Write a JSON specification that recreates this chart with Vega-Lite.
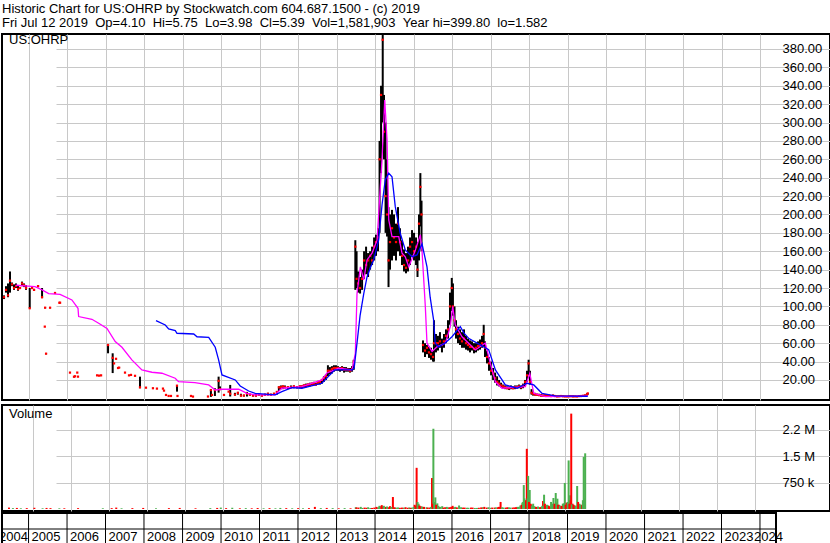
{
  "$schema": "https://vega.github.io/schema/vega-lite/v6.json",
  "padding": {"top": 3, "left": 0, "right": 0, "bottom": 0},
  "background": "white",
  "title": {
    "text": ["Historic Chart for US:OHRP by Stockwatch.com 604.687.1500 - (c) 2019", "Fri Jul 12 2019 \u00a0Op=4.10 \u00a0Hi=5.75 \u00a0Lo=3.98 \u00a0Cl=5.39 \u00a0Vol=1,581,903 \u00a0Year hi=399.80 \u00a0lo=1.582"],
    "anchor": "start", "frame": "group", "fontSize": 13, "fontWeight": "normal", "font": "Liberation Sans", "color": "black", "lineHeight": 14, "offset": 1
  },
  "config": {
    "view": {"stroke": "black", "strokeWidth": 2},
    "font": "Liberation Sans",
    "axis": {"domain": false, "ticks": false, "labelFont": "Liberation Sans", "labelFontSize": 13, "labelColor": "black", "gridColor": "#c8c8c8", "gridWidth": 1, "labelOverlap": false}
  },
  "datasets": {
    "px": [
      {"d":"2004-05-13","l":108,"h":112,"c":110},
      {"d":"2004-06-01","l":115,"h":122,"c":118},
      {"d":"2004-06-20","l":110,"h":125,"c":112},
      {"d":"2004-07-09","l":115,"h":138,"c":128},
      {"d":"2004-07-28","l":122,"h":126,"c":124},
      {"d":"2004-08-16","l":118,"h":124,"c":120},
      {"d":"2004-09-04","l":120,"h":125,"c":122},
      {"d":"2004-09-23","l":117,"h":123,"c":119},
      {"d":"2004-10-12","l":119,"h":121,"c":120},
      {"d":"2004-10-31","l":122,"h":127,"c":125},
      {"d":"2004-11-19","l":121,"h":125,"c":123},
      {"d":"2004-12-08","l":118,"h":123,"c":120},
      {"d":"2005-01-12","l":98,"h":120,"c":98},
      {"d":"2005-02-03","l":119,"h":121,"c":120},
      {"d":"2005-02-22","l":117,"h":119,"c":118},
      {"d":"2005-04-01","l":121,"h":123,"c":122},
      {"d":"2005-05-09","l":109,"h":120,"c":110},
      {"d":"2005-06-04","l":78,"h":78,"c":78},
      {"d":"2005-06-07","l":98,"h":99,"c":98.6},
      {"d":"2005-06-16","l":48,"h":49,"c":48.6},
      {"d":"2005-07-24","l":98,"h":99,"c":98.6},
      {"d":"2005-09-09","l":114,"h":115,"c":114.6},
      {"d":"2005-10-20","l":104,"h":104,"c":104},
      {"d":"2005-10-27","l":104,"h":104,"c":104},
      {"d":"2006-01-29","l":28,"h":28,"c":28},
      {"d":"2006-03-08","l":23,"h":24,"c":23.5},
      {"d":"2006-03-18","l":24,"h":24,"c":24},
      {"d":"2006-04-08","l":28,"h":28,"c":28},
      {"d":"2006-04-15","l":23.6,"h":23.6,"c":23.6},
      {"d":"2006-10-13","l":25,"h":25,"c":25},
      {"d":"2006-11-01","l":24.7,"h":24.7,"c":24.7},
      {"d":"2006-11-20","l":25,"h":25,"c":25},
      {"d":"2007-01-25","l":49,"h":58,"c":58},
      {"d":"2007-03-10","l":27.5,"h":49,"c":44},
      {"d":"2007-03-23","l":38,"h":38,"c":38},
      {"d":"2007-04-11","l":43,"h":43,"c":43},
      {"d":"2007-04-30","l":33,"h":33,"c":33},
      {"d":"2007-05-10","l":33,"h":34,"c":33.4},
      {"d":"2007-07-05","l":28,"h":28,"c":28},
      {"d":"2007-08-12","l":25,"h":25,"c":25},
      {"d":"2007-08-31","l":25.5,"h":25.5,"c":25.5},
      {"d":"2007-10-08","l":24.5,"h":24.5,"c":24.5},
      {"d":"2007-11-24","l":11,"h":23.6,"c":12},
      {"d":"2008-01-20","l":11.6,"h":11.6,"c":11.6},
      {"d":"2008-03-26","l":11,"h":11,"c":11},
      {"d":"2008-05-03","l":10.6,"h":10.6,"c":10.6},
      {"d":"2008-06-29","l":10.6,"h":10.6,"c":10.6},
      {"d":"2008-07-09","l":8.4,"h":8.4,"c":8.4},
      {"d":"2008-07-28","l":3.7,"h":3.7,"c":3.7},
      {"d":"2008-08-22","l":2.6,"h":2.6,"c":2.6},
      {"d":"2008-09-13","l":2.6,"h":2.6,"c":2.6},
      {"d":"2008-11-09","l":7.3,"h":13.8,"c":13.8},
      {"d":"2008-11-14","l":2.6,"h":2.6,"c":2.6},
      {"d":"2009-03-22","l":2.6,"h":2.6,"c":2.6},
      {"d":"2009-04-10","l":1.9,"h":1.9,"c":1.9},
      {"d":"2009-08-30","l":2,"h":2,"c":2},
      {"d":"2009-09-27","l":1.6,"h":9,"c":9},
      {"d":"2009-10-07","l":3.7,"h":3.7,"c":3.7},
      {"d":"2009-11-04","l":2.6,"h":11,"c":9},
      {"d":"2009-12-09","l":6.2,"h":23.6,"c":19},
      {"d":"2009-12-22","l":10,"h":13,"c":10},
      {"d":"2010-01-29","l":3.7,"h":3.7,"c":3.7},
      {"d":"2010-03-14","l":7.3,"h":7.3,"c":7.3},
      {"d":"2010-03-29","l":2,"h":14.6,"c":5},
      {"d":"2010-05-13","l":3,"h":6,"c":4},
      {"d":"2010-06-10","l":4,"h":7,"c":6},
      {"d":"2010-07-09","l":2,"h":5,"c":3},
      {"d":"2010-08-06","l":2,"h":4,"c":3},
      {"d":"2010-09-04","l":2,"h":7,"c":5},
      {"d":"2010-10-02","l":3,"h":5,"c":4},
      {"d":"2010-10-31","l":2,"h":4,"c":3},
      {"d":"2010-11-28","l":2,"h":5,"c":3},
      {"d":"2010-12-26","l":3,"h":5,"c":4},
      {"d":"2011-01-24","l":2,"h":4,"c":3},
      {"d":"2011-02-21","l":3,"h":5,"c":4},
      {"d":"2011-03-22","l":3,"h":6,"c":5},
      {"d":"2011-04-19","l":3,"h":5,"c":4},
      {"d":"2011-05-18","l":4,"h":6,"c":5},
      {"d":"2011-06-15","l":4,"h":8,"c":7},
      {"d":"2011-07-04","l":8,"h":13,"c":12},
      {"d":"2011-07-23","l":10,"h":14,"c":12},
      {"d":"2011-08-11","l":10,"h":14,"c":13},
      {"d":"2011-08-30","l":11,"h":14,"c":12},
      {"d":"2011-09-27","l":10,"h":13,"c":12},
      {"d":"2011-10-26","l":11,"h":14,"c":12},
      {"d":"2011-11-23","l":11,"h":14,"c":13},
      {"d":"2011-12-22","l":11,"h":13,"c":12},
      {"d":"2012-01-19","l":11,"h":14,"c":13},
      {"d":"2012-02-07","l":11,"h":14,"c":13},
      {"d":"2012-02-26","l":12,"h":15,"c":14},
      {"d":"2012-03-16","l":12,"h":16,"c":14},
      {"d":"2012-04-04","l":13,"h":16,"c":15},
      {"d":"2012-04-23","l":13,"h":17,"c":15},
      {"d":"2012-05-12","l":14,"h":17,"c":16},
      {"d":"2012-05-31","l":14,"h":18,"c":16},
      {"d":"2012-06-19","l":14,"h":17,"c":15},
      {"d":"2012-07-08","l":15,"h":19,"c":17},
      {"d":"2012-07-27","l":15,"h":19,"c":18},
      {"d":"2012-08-15","l":16,"h":21,"c":20},
      {"d":"2012-09-03","l":18,"h":24,"c":22},
      {"d":"2012-09-22","l":20,"h":26,"c":24},
      {"d":"2012-10-11","l":24,"h":36,"c":30},
      {"d":"2012-10-30","l":26,"h":34,"c":30},
      {"d":"2012-11-18","l":27,"h":35,"c":32},
      {"d":"2012-12-07","l":29,"h":36,"c":33},
      {"d":"2012-12-26","l":30,"h":36,"c":33},
      {"d":"2013-01-15","l":30,"h":35,"c":33},
      {"d":"2013-02-03","l":29,"h":34,"c":32},
      {"d":"2013-02-22","l":30,"h":35,"c":33},
      {"d":"2013-03-13","l":28,"h":34,"c":31},
      {"d":"2013-04-01","l":29,"h":34,"c":31},
      {"d":"2013-04-20","l":29,"h":33,"c":31},
      {"d":"2013-05-09","l":28,"h":33,"c":30},
      {"d":"2013-05-28","l":29,"h":35,"c":32},
      {"d":"2013-06-13","l":31,"h":42,"c":40},
      {"d":"2013-06-28","l":118,"h":172,"c":165},
      {"d":"2013-07-10","l":120,"h":160,"c":130},
      {"d":"2013-07-24","l":115,"h":138,"c":125},
      {"d":"2013-08-12","l":114,"h":132,"c":120},
      {"d":"2013-08-31","l":118,"h":140,"c":130},
      {"d":"2013-09-19","l":130,"h":160,"c":150},
      {"d":"2013-10-08","l":135,"h":165,"c":145},
      {"d":"2013-10-27","l":132,"h":158,"c":150},
      {"d":"2013-11-15","l":140,"h":160,"c":155},
      {"d":"2013-12-04","l":145,"h":165,"c":150},
      {"d":"2013-12-23","l":150,"h":175,"c":165},
      {"d":"2014-01-10","l":155,"h":178,"c":170},
      {"d":"2014-01-29","l":160,"h":185,"c":175},
      {"d":"2014-02-13","l":180,"h":280,"c":260},
      {"d":"2014-02-27","l":245,"h":340,"c":330},
      {"d":"2014-03-15","l":300,"h":397,"c":390},
      {"d":"2014-03-27","l":260,"h":330,"c":290},
      {"d":"2014-04-11","l":180,"h":300,"c":220},
      {"d":"2014-04-25","l":176,"h":260,"c":200},
      {"d":"2014-05-09","l":121,"h":208,"c":150},
      {"d":"2014-05-23","l":140,"h":200,"c":170},
      {"d":"2014-06-11","l":150,"h":205,"c":185},
      {"d":"2014-06-30","l":155,"h":200,"c":175},
      {"d":"2014-07-19","l":150,"h":190,"c":170},
      {"d":"2014-08-07","l":160,"h":208,"c":190},
      {"d":"2014-08-26","l":155,"h":185,"c":170},
      {"d":"2014-09-14","l":145,"h":172,"c":155},
      {"d":"2014-10-03","l":138,"h":162,"c":145},
      {"d":"2014-10-22","l":136,"h":158,"c":142},
      {"d":"2014-11-10","l":138,"h":165,"c":150},
      {"d":"2014-11-29","l":145,"h":175,"c":165},
      {"d":"2014-12-18","l":155,"h":183,"c":170},
      {"d":"2015-01-06","l":150,"h":180,"c":160},
      {"d":"2015-01-25","l":145,"h":175,"c":165},
      {"d":"2015-02-08","l":132,"h":170,"c":140},
      {"d":"2015-02-22","l":150,"h":200,"c":190},
      {"d":"2015-03-07","l":187,"h":245,"c":230},
      {"d":"2015-03-18","l":160,"h":215,"c":200},
      {"d":"2015-04-01","l":50,"h":63,"c":58},
      {"d":"2015-04-20","l":45,"h":60,"c":52},
      {"d":"2015-05-09","l":48,"h":58,"c":55},
      {"d":"2015-05-28","l":44,"h":56,"c":50},
      {"d":"2015-06-16","l":42,"h":55,"c":48},
      {"d":"2015-07-05","l":40,"h":52,"c":45},
      {"d":"2015-07-14","l":40,"h":85,"c":60},
      {"d":"2015-08-02","l":50,"h":70,"c":60},
      {"d":"2015-08-21","l":52,"h":68,"c":60},
      {"d":"2015-09-09","l":55,"h":72,"c":62},
      {"d":"2015-09-28","l":50,"h":65,"c":58},
      {"d":"2015-10-17","l":55,"h":70,"c":62},
      {"d":"2015-11-05","l":60,"h":75,"c":68},
      {"d":"2015-11-24","l":65,"h":85,"c":75},
      {"d":"2015-12-13","l":80,"h":115,"c":100},
      {"d":"2015-12-30","l":95,"h":131,"c":120},
      {"d":"2016-01-10","l":90,"h":125,"c":100},
      {"d":"2016-01-25","l":78,"h":100,"c":85},
      {"d":"2016-02-08","l":65,"h":85,"c":75},
      {"d":"2016-02-27","l":60,"h":78,"c":70},
      {"d":"2016-03-17","l":58,"h":75,"c":65},
      {"d":"2016-04-05","l":55,"h":72,"c":62},
      {"d":"2016-04-24","l":55,"h":75,"c":65},
      {"d":"2016-05-13","l":53,"h":68,"c":60},
      {"d":"2016-06-01","l":52,"h":65,"c":58},
      {"d":"2016-06-20","l":50,"h":63,"c":56},
      {"d":"2016-07-09","l":52,"h":62,"c":56},
      {"d":"2016-07-28","l":49,"h":60,"c":54},
      {"d":"2016-08-16","l":50,"h":60,"c":55},
      {"d":"2016-09-04","l":52,"h":62,"c":57},
      {"d":"2016-09-23","l":53,"h":64,"c":58},
      {"d":"2016-10-12","l":55,"h":68,"c":60},
      {"d":"2016-10-28","l":56,"h":80,"c":70},
      {"d":"2016-11-09","l":45,"h":62,"c":55},
      {"d":"2016-11-28","l":38,"h":52,"c":45},
      {"d":"2016-12-17","l":30,"h":45,"c":38},
      {"d":"2017-01-06","l":25,"h":40,"c":30},
      {"d":"2017-01-25","l":20,"h":33,"c":27},
      {"d":"2017-02-13","l":17,"h":28,"c":22},
      {"d":"2017-03-04","l":14,"h":24,"c":18},
      {"d":"2017-03-23","l":13,"h":20,"c":16},
      {"d":"2017-04-11","l":12,"h":17,"c":14},
      {"d":"2017-04-30","l":11,"h":15,"c":13},
      {"d":"2017-05-19","l":10,"h":14,"c":12},
      {"d":"2017-06-07","l":10,"h":13,"c":11},
      {"d":"2017-06-26","l":9,"h":13,"c":11},
      {"d":"2017-07-14","l":10,"h":14,"c":12},
      {"d":"2017-08-02","l":10,"h":13,"c":11},
      {"d":"2017-08-21","l":10,"h":14,"c":12},
      {"d":"2017-09-09","l":11,"h":14,"c":12},
      {"d":"2017-09-28","l":11,"h":15,"c":13},
      {"d":"2017-10-17","l":10,"h":14,"c":12},
      {"d":"2017-11-05","l":11,"h":16,"c":14},
      {"d":"2017-11-24","l":13,"h":20,"c":18},
      {"d":"2017-12-13","l":18,"h":30,"c":25},
      {"d":"2017-12-28","l":25,"h":42,"c":38},
      {"d":"2018-01-10","l":15,"h":30,"c":18},
      {"d":"2018-01-25","l":4,"h":10,"c":6},
      {"d":"2018-02-08","l":3,"h":7,"c":5},
      {"d":"2018-02-27","l":3,"h":6,"c":4},
      {"d":"2018-03-18","l":3,"h":5,"c":4},
      {"d":"2018-04-06","l":2.5,"h":5,"c":3.5},
      {"d":"2018-04-25","l":2,"h":4.5,"c":3},
      {"d":"2018-05-14","l":2,"h":4,"c":3},
      {"d":"2018-06-02","l":2.5,"h":4.5,"c":3.5},
      {"d":"2018-06-21","l":2.5,"h":4,"c":3},
      {"d":"2018-07-10","l":2,"h":4,"c":3},
      {"d":"2018-07-29","l":2,"h":3.5,"c":2.5},
      {"d":"2018-08-17","l":2.5,"h":4,"c":3},
      {"d":"2018-09-05","l":2,"h":3.5,"c":2.5},
      {"d":"2018-09-24","l":1.6,"h":3,"c":2},
      {"d":"2018-10-13","l":1.6,"h":3,"c":2.2},
      {"d":"2018-11-01","l":2,"h":3.5,"c":2.5},
      {"d":"2018-11-20","l":1.8,"h":3,"c":2.2},
      {"d":"2018-12-09","l":1.6,"h":2.8,"c":2},
      {"d":"2018-12-28","l":1.6,"h":2.6,"c":2},
      {"d":"2019-01-15","l":1.7,"h":3,"c":2.2},
      {"d":"2019-02-03","l":1.8,"h":3,"c":2.3},
      {"d":"2019-02-22","l":1.6,"h":3.2,"c":2},
      {"d":"2019-03-13","l":1.7,"h":2.8,"c":2.1},
      {"d":"2019-04-01","l":1.6,"h":2.5,"c":2},
      {"d":"2019-04-20","l":1.8,"h":3,"c":2.4},
      {"d":"2019-05-09","l":1.9,"h":3.2,"c":2.5},
      {"d":"2019-05-28","l":2,"h":3.5,"c":2.8},
      {"d":"2019-06-16","l":2.5,"h":4,"c":3.2},
      {"d":"2019-07-05","l":3.5,"h":5.5,"c":4.1},
      {"d":"2019-07-12","l":3.98,"h":5.75,"c":5.39}
    ],
    "ma1": [
      {"d":"2004-09-01","v":123},{"d":"2004-12-26","v":122},{"d":"2005-03-03","v":121.5},{"d":"2005-05-09","v":118},
      {"d":"2005-07-11","v":114},{"d":"2005-10-27","v":113},{"d":"2006-02-16","v":107},{"d":"2006-04-15","v":98},
      {"d":"2006-04-21","v":89},{"d":"2006-08-25","v":86},{"d":"2006-10-28","v":81.7},{"d":"2007-01-15","v":76},
      {"d":"2007-04-03","v":61.7},{"d":"2007-06-06","v":55.6},{"d":"2007-09-08","v":41.8},{"d":"2007-12-12","v":30.9},
      {"d":"2008-03-16","v":28.4},{"d":"2008-06-19","v":27.3},{"d":"2008-10-23","v":21.9},{"d":"2008-11-24","v":18.2},
      {"d":"2009-04-29","v":17},{"d":"2009-09-06","v":14.6},{"d":"2009-11-07","v":9.1},{"d":"2010-01-10","v":9.9},
      {"d":"2010-06-17","v":9.9},{"d":"2010-09-04","v":5.5},{"d":"2010-11-21","v":3.7},{"d":"2011-05-27","v":3.7},
      {"d":"2011-08-01","v":11},{"d":"2012-02-07","v":12.7},{"d":"2012-08-15","v":20},{"d":"2012-10-02","v":27.6},
      {"d":"2013-01-22","v":32.7},{"d":"2013-05-28","v":31},{"d":"2013-06-28","v":49},{"d":"2013-07-14","v":114},
      {"d":"2013-08-15","v":143},{"d":"2013-09-16","v":129},{"d":"2013-10-17","v":150.5},{"d":"2013-12-04","v":158},
      {"d":"2014-01-20","v":172},{"d":"2014-03-08","v":259},{"d":"2014-04-03","v":324.5},{"d":"2014-04-25","v":281},
      {"d":"2014-05-11","v":194},{"d":"2014-06-11","v":176},{"d":"2014-08-14","v":176},{"d":"2014-09-14","v":158},
      {"d":"2014-10-15","v":154},{"d":"2014-11-17","v":143},{"d":"2015-01-18","v":161},{"d":"2015-03-07","v":178},
      {"d":"2015-03-23","v":160},{"d":"2015-04-23","v":100},{"d":"2015-05-09","v":60},{"d":"2015-06-26","v":51},
      {"d":"2015-08-12","v":56},{"d":"2015-10-30","v":60},{"d":"2015-12-16","v":78},{"d":"2016-01-08","v":99.7},
      {"d":"2016-02-01","v":80},{"d":"2016-04-05","v":67},{"d":"2016-06-07","v":60},{"d":"2016-08-09","v":52.6},
      {"d":"2016-11-12","v":60},{"d":"2016-12-30","v":38},{"d":"2017-02-16","v":18},{"d":"2017-04-20","v":11},
      {"d":"2017-11-27","v":12.7},{"d":"2018-01-08","v":27.3},{"d":"2018-02-15","v":5.5},{"d":"2018-06-05","v":1.9},
      {"d":"2019-07-12","v":2.5}
    ],
    "ma2": [
      {"d":"2008-04-24","v":84.5},{"d":"2008-07-21","v":79.8},{"d":"2008-08-22","v":75.5},{"d":"2008-10-24","v":73.6},
      {"d":"2008-11-09","v":70.8},{"d":"2009-04-17","v":70},{"d":"2009-05-18","v":67},{"d":"2009-09-06","v":66.4},
      {"d":"2009-11-07","v":55.6},{"d":"2009-12-09","v":41.8},{"d":"2010-01-10","v":25.5},{"d":"2010-05-16","v":20},
      {"d":"2010-07-02","v":13.5},{"d":"2010-09-20","v":8},{"d":"2010-11-21","v":5.5},{"d":"2011-05-30","v":3.7},
      {"d":"2011-08-01","v":7.3},{"d":"2011-11-04","v":11.6},{"d":"2012-02-07","v":11},{"d":"2012-08-15","v":16.4},
      {"d":"2012-12-16","v":31},{"d":"2013-05-28","v":31},{"d":"2013-06-17","v":33},{"d":"2013-07-14","v":60},
      {"d":"2013-08-12","v":90},{"d":"2013-09-16","v":114},{"d":"2013-10-17","v":132},{"d":"2013-11-17","v":142},
      {"d":"2013-12-19","v":150.5},{"d":"2014-02-04","v":172},{"d":"2014-03-08","v":210},{"d":"2014-04-08","v":237.5},
      {"d":"2014-05-11","v":245},{"d":"2014-06-11","v":241},{"d":"2014-07-12","v":208.5},{"d":"2014-08-28","v":179.6},
      {"d":"2014-10-15","v":161.4},{"d":"2014-12-17","v":154},{"d":"2015-02-03","v":156},{"d":"2015-03-23","v":168},
      {"d":"2015-05-09","v":143},{"d":"2015-06-08","v":110},{"d":"2015-07-11","v":85},{"d":"2015-07-26","v":60},
      {"d":"2015-08-27","v":56},{"d":"2015-10-26","v":60},{"d":"2016-01-01","v":67},{"d":"2016-03-20","v":78},
      {"d":"2016-04-24","v":71},{"d":"2016-06-10","v":65},{"d":"2016-10-12","v":57},{"d":"2016-12-14","v":53},
      {"d":"2017-02-16","v":31},{"d":"2017-04-20","v":20},{"d":"2017-05-21","v":14.6},{"d":"2017-09-09","v":11},
      {"d":"2017-12-13","v":16.4},{"d":"2018-02-15","v":14.6},{"d":"2018-05-04","v":5.5},{"d":"2018-09-05","v":2.6},
      {"d":"2019-07-12","v":2.3}
    ],
    "vol": [
      {"d":"2004-05-13","v":40000,"u":"d"},{"d":"2004-06-20","v":25000,"u":"u"},{"d":"2004-07-28","v":30000,"u":"d"},
      {"d":"2004-09-04","v":20000,"u":"u"},{"d":"2004-10-31","v":25000,"u":"d"},{"d":"2005-01-12","v":35000,"u":"d"},
      {"d":"2005-04-01","v":20000,"u":"u"},{"d":"2005-05-09","v":30000,"u":"d"},{"d":"2005-06-16","v":25000,"u":"d"},
      {"d":"2005-09-09","v":20000,"u":"u"},{"d":"2005-10-27","v":20000,"u":"d"},{"d":"2006-03-08","v":25000,"u":"d"},
      {"d":"2006-11-01","v":20000,"u":"u"},{"d":"2007-01-25","v":25000,"u":"d"},{"d":"2007-03-10","v":40000,"u":"d"},
      {"d":"2007-04-30","v":20000,"u":"u"},{"d":"2007-08-12","v":25000,"u":"d"},{"d":"2007-11-24","v":30000,"u":"d"},
      {"d":"2008-03-26","v":20000,"u":"u"},{"d":"2008-07-28","v":25000,"u":"d"},{"d":"2008-11-09","v":30000,"u":"d"},
      {"d":"2009-04-10","v":20000,"u":"d"},{"d":"2009-08-30","v":25000,"u":"u"},{"d":"2009-11-04","v":30000,"u":"d"},
      {"d":"2009-12-09","v":40000,"u":"u"},{"d":"2010-01-29","v":25000,"u":"d"},{"d":"2010-03-29","v":35000,"u":"u"},
      {"d":"2010-06-10","v":20000,"u":"d"},{"d":"2010-08-06","v":25000,"u":"u"},{"d":"2010-10-02","v":20000,"u":"d"},
      {"d":"2010-11-28","v":25000,"u":"d"},{"d":"2011-01-24","v":20000,"u":"u"},{"d":"2011-03-22","v":25000,"u":"d"},
      {"d":"2011-05-18","v":20000,"u":"u"},{"d":"2011-07-04","v":30000,"u":"u"},{"d":"2011-08-30","v":25000,"u":"d"},
      {"d":"2011-10-26","v":20000,"u":"u"},{"d":"2011-12-22","v":25000,"u":"d"},{"d":"2012-02-07","v":20000,"u":"u"},
      {"d":"2012-04-04","v":25000,"u":"d"},{"d":"2012-05-31","v":60000,"u":"d"},{"d":"2012-07-27","v":25000,"u":"u"},
      {"d":"2012-09-22","v":30000,"u":"d"},{"d":"2012-11-18","v":25000,"u":"u"},{"d":"2013-01-15","v":20000,"u":"d"},
      {"d":"2013-03-13","v":25000,"u":"u"},{"d":"2013-05-09","v":20000,"u":"d"},{"d":"2013-06-28","v":50000,"u":"u"},
      {"d":"2013-07-24","v":40000,"u":"d"},{"d":"2013-08-31","v":30000,"u":"u"},{"d":"2013-10-08","v":35000,"u":"d"},
      {"d":"2013-11-15","v":30000,"u":"u"},{"d":"2013-12-23","v":40000,"u":"d"},{"d":"2014-01-29","v":50000,"u":"u"},
      {"d":"2014-02-27","v":80000,"u":"d"},{"d":"2014-03-15","v":70000,"u":"u"},{"d":"2014-04-11","v":60000,"u":"d"},
      {"d":"2014-05-09","v":50000,"u":"d"},{"d":"2014-05-23","v":80000,"u":"d"},{"d":"2014-06-20","v":340000,"u":"d"},
      {"d":"2014-07-19","v":40000,"u":"u"},{"d":"2014-08-26","v":35000,"u":"d"},{"d":"2014-10-03","v":40000,"u":"u"},
      {"d":"2014-11-10","v":35000,"u":"d"},{"d":"2014-12-18","v":40000,"u":"u"},{"d":"2015-01-15","v":120000,"u":"d"},
      {"d":"2015-02-03","v":1170000,"u":"d"},{"d":"2015-02-22","v":150000,"u":"u"},{"d":"2015-03-13","v":80000,"u":"d"},
      {"d":"2015-04-01","v":60000,"u":"d"},{"d":"2015-05-09","v":50000,"u":"u"},{"d":"2015-06-07","v":40000,"u":"d"},
      {"d":"2015-07-01","v":880000,"u":"d"},{"d":"2015-07-14","v":2280000,"u":"u"},{"d":"2015-08-02","v":330000,"u":"u"},
      {"d":"2015-08-21","v":160000,"u":"u"},{"d":"2015-09-09","v":60000,"u":"d"},{"d":"2015-10-07","v":80000,"u":"u"},
      {"d":"2015-11-05","v":50000,"u":"d"},{"d":"2015-12-03","v":40000,"u":"u"},{"d":"2016-01-01","v":60000,"u":"d"},
      {"d":"2016-01-29","v":50000,"u":"u"},{"d":"2016-03-17","v":100000,"u":"u"},{"d":"2016-04-24","v":40000,"u":"d"},
      {"d":"2016-06-01","v":35000,"u":"u"},{"d":"2016-07-09","v":40000,"u":"d"},{"d":"2016-08-16","v":30000,"u":"u"},
      {"d":"2016-09-23","v":35000,"u":"d"},{"d":"2016-10-31","v":50000,"u":"u"},{"d":"2016-12-08","v":40000,"u":"d"},
      {"d":"2017-01-15","v":35000,"u":"u"},{"d":"2017-02-22","v":40000,"u":"d"},{"d":"2017-03-23","v":50000,"u":"d"},
      {"d":"2017-04-20","v":200000,"u":"d"},{"d":"2017-05-19","v":40000,"u":"u"},{"d":"2017-06-26","v":50000,"u":"d"},
      {"d":"2017-07-25","v":40000,"u":"u"},{"d":"2017-08-31","v":45000,"u":"d"},{"d":"2017-09-28","v":60000,"u":"u"},
      {"d":"2017-10-27","v":100000,"u":"u"},{"d":"2017-11-15","v":180000,"u":"u"},{"d":"2017-11-29","v":680000,"u":"u"},
      {"d":"2017-12-13","v":120000,"u":"d"},{"d":"2017-12-28","v":1710000,"u":"d"},{"d":"2018-01-10","v":940000,"u":"u"},
      {"d":"2018-01-25","v":540000,"u":"u"},{"d":"2018-02-08","v":130000,"u":"d"},{"d":"2018-02-27","v":150000,"u":"u"},
      {"d":"2018-03-18","v":60000,"u":"d"},{"d":"2018-04-06","v":50000,"u":"u"},{"d":"2018-04-25","v":40000,"u":"d"},
      {"d":"2018-05-14","v":60000,"u":"u"},{"d":"2018-06-02","v":227000,"u":"d"},{"d":"2018-06-12","v":406000,"u":"u"},
      {"d":"2018-07-01","v":80000,"u":"d"},{"d":"2018-07-20","v":100000,"u":"u"},{"d":"2018-08-08","v":60000,"u":"d"},
      {"d":"2018-08-27","v":150000,"u":"u"},{"d":"2018-09-10","v":312000,"u":"u"},{"d":"2018-10-02","v":454000,"u":"u"},
      {"d":"2018-10-18","v":293000,"u":"u"},{"d":"2018-11-01","v":120000,"u":"d"},{"d":"2018-11-20","v":80000,"u":"d"},
      {"d":"2018-12-09","v":150000,"u":"u"},{"d":"2018-12-28","v":740000,"u":"u"},{"d":"2019-01-15","v":180000,"u":"d"},
      {"d":"2019-02-03","v":1380000,"u":"u"},{"d":"2019-02-17","v":389000,"u":"u"},{"d":"2019-02-28","v":2710000,"u":"d"},
      {"d":"2019-03-13","v":150000,"u":"d"},{"d":"2019-04-01","v":100000,"u":"d"},{"d":"2019-04-26","v":653000,"u":"u"},
      {"d":"2019-05-18","v":150000,"u":"u"},{"d":"2019-06-06","v":120000,"u":"d"},{"d":"2019-06-28","v":1480000,"u":"u"},
      {"d":"2019-07-12","v":1581903,"u":"u"},
      {"d":"2013-07-05","v":45000,"u":"d"},{"d":"2013-08-15","v":60000,"u":"u"},{"d":"2013-09-20","v":40000,"u":"d"},
      {"d":"2013-10-25","v":50000,"u":"u"},{"d":"2013-12-01","v":30000,"u":"d"},{"d":"2014-01-12","v":60000,"u":"d"},
      {"d":"2014-02-10","v":90000,"u":"u"},{"d":"2014-03-05","v":110000,"u":"d"},{"d":"2014-03-25","v":90000,"u":"u"},
      {"d":"2014-04-25","v":70000,"u":"u"},{"d":"2014-06-05","v":60000,"u":"u"},{"d":"2014-07-05","v":50000,"u":"d"},
      {"d":"2014-08-08","v":45000,"u":"u"},{"d":"2014-09-15","v":40000,"u":"d"},{"d":"2014-10-20","v":50000,"u":"d"},
      {"d":"2014-11-25","v":45000,"u":"u"},{"d":"2014-12-05","v":30000,"u":"d"},{"d":"2015-01-05","v":60000,"u":"u"},
      {"d":"2015-01-25","v":90000,"u":"d"},{"d":"2015-02-12","v":200000,"u":"u"},{"d":"2015-03-01","v":100000,"u":"d"},
      {"d":"2015-03-25","v":70000,"u":"u"},{"d":"2015-04-15","v":60000,"u":"d"},{"d":"2015-05-20","v":40000,"u":"d"},
      {"d":"2015-06-20","v":60000,"u":"u"},{"d":"2015-07-08","v":150000,"u":"d"},{"d":"2015-07-22","v":200000,"u":"u"},
      {"d":"2015-08-10","v":120000,"u":"d"},{"d":"2015-08-30","v":90000,"u":"u"},{"d":"2015-09-20","v":60000,"u":"u"},
      {"d":"2015-10-20","v":40000,"u":"d"},{"d":"2015-11-20","v":60000,"u":"u"},{"d":"2015-12-15","v":50000,"u":"d"},
      {"d":"2016-01-15","v":90000,"u":"d"},{"d":"2016-02-10","v":60000,"u":"u"},{"d":"2016-02-25","v":45000,"u":"d"},
      {"d":"2016-04-05","v":50000,"u":"u"},{"d":"2016-05-10","v":40000,"u":"d"},{"d":"2016-06-15","v":35000,"u":"u"},
      {"d":"2016-07-25","v":40000,"u":"d"},{"d":"2016-09-05","v":30000,"u":"u"},{"d":"2016-10-15","v":45000,"u":"d"},
      {"d":"2016-11-15","v":60000,"u":"d"},{"d":"2016-12-25","v":50000,"u":"u"},{"d":"2017-01-30","v":40000,"u":"d"},
      {"d":"2017-03-05","v":45000,"u":"u"},{"d":"2017-04-05","v":60000,"u":"d"},{"d":"2017-05-05","v":50000,"u":"u"},
      {"d":"2017-06-10","v":40000,"u":"d"},{"d":"2017-07-10","v":45000,"u":"u"},{"d":"2017-08-15","v":40000,"u":"d"},
      {"d":"2017-09-15","v":50000,"u":"d"},{"d":"2017-10-12","v":60000,"u":"u"},{"d":"2017-11-08","v":120000,"u":"d"},
      {"d":"2017-11-22","v":200000,"u":"u"},{"d":"2017-12-05","v":300000,"u":"u"},{"d":"2017-12-20","v":250000,"u":"d"},
      {"d":"2018-01-04","v":300000,"u":"u"},{"d":"2018-01-18","v":200000,"u":"d"},{"d":"2018-02-01","v":150000,"u":"d"},
      {"d":"2018-02-15","v":100000,"u":"u"},{"d":"2018-03-10","v":80000,"u":"u"},{"d":"2018-03-28","v":60000,"u":"d"},
      {"d":"2018-04-15","v":70000,"u":"u"},{"d":"2018-05-05","v":50000,"u":"d"},{"d":"2018-05-25","v":90000,"u":"u"},
      {"d":"2018-06-20","v":150000,"u":"d"},{"d":"2018-07-10","v":120000,"u":"u"},{"d":"2018-07-28","v":90000,"u":"d"},
      {"d":"2018-08-18","v":200000,"u":"u"},{"d":"2018-09-20","v":150000,"u":"d"},{"d":"2018-10-10","v":180000,"u":"u"},
      {"d":"2018-10-25","v":120000,"u":"d"},{"d":"2018-11-10","v":100000,"u":"u"},{"d":"2018-11-28","v":90000,"u":"d"},
      {"d":"2018-12-18","v":160000,"u":"u"},{"d":"2019-01-05","v":120000,"u":"d"},{"d":"2019-01-25","v":200000,"u":"u"},
      {"d":"2019-02-10","v":150000,"u":"d"},{"d":"2019-02-22","v":250000,"u":"d"},{"d":"2019-03-05","v":130000,"u":"u"},
      {"d":"2019-03-22","v":120000,"u":"d"},{"d":"2019-04-12","v":90000,"u":"u"},{"d":"2019-05-05","v":200000,"u":"d"},
      {"d":"2019-05-28","v":120000,"u":"u"},{"d":"2019-06-15","v":100000,"u":"d"},{"d":"2019-06-20","v":250000,"u":"u"},
      {"d":"2019-07-05","v":300000,"u":"u"}
    ],
    "yrs": [
      {"d":"2004-01-01","lab":"2004"},{"d":"2005-01-01","lab":"2005"},{"d":"2006-01-01","lab":"2006"},
      {"d":"2007-01-01","lab":"2007"},{"d":"2008-01-01","lab":"2008"},{"d":"2009-01-01","lab":"2009"},
      {"d":"2010-01-01","lab":"2010"},{"d":"2011-01-01","lab":"2011"},{"d":"2012-01-01","lab":"2012"},
      {"d":"2013-01-01","lab":"2013"},{"d":"2014-01-01","lab":"2014"},{"d":"2015-01-01","lab":"2015"},
      {"d":"2016-01-01","lab":"2016"},{"d":"2017-01-01","lab":"2017"},{"d":"2018-01-01","lab":"2018"},
      {"d":"2019-01-01","lab":"2019"},{"d":"2020-01-01","lab":"2020"},{"d":"2021-01-01","lab":"2021"},
      {"d":"2022-01-01","lab":"2022"},{"d":"2023-01-01","lab":"2023"},{"d":"2024-01-01","lab":"2024"}
    ]
  },
  "spacing": 3,
  "vconcat": [
    {
      "width": 828,
      "height": 366,
      "title": {"text": "US:OHRP", "anchor": "start", "frame": "group", "offset": -15, "dx": 7, "fontSize": 13, "fontWeight": "normal", "color": "black", "font": "Liberation Sans"},
      "encoding": {
        "x": {
          "field": "d", "type": "temporal", "title": null,
          "scale": {"type": "utc", "domain": [{"year": 2004, "month": 4, "date": 24, "utc": true}, {"year": 2024, "month": 6, "date": 1, "utc": true}], "range": [0, 774]},
          "axis": {"labels": false, "grid": true, "title": null, "tickCount": 40, "values": [
            {"year":2005,"utc":true},{"year":2006,"utc":true},{"year":2007,"utc":true},{"year":2008,"utc":true},{"year":2009,"utc":true},
            {"year":2010,"utc":true},{"year":2011,"utc":true},{"year":2012,"utc":true},{"year":2013,"utc":true},{"year":2014,"utc":true},
            {"year":2015,"utc":true},{"year":2016,"utc":true},{"year":2017,"utc":true},{"year":2018,"utc":true},{"year":2019,"utc":true},
            {"year":2020,"utc":true},{"year":2021,"utc":true},{"year":2022,"utc":true},{"year":2023,"utc":true},{"year":2024,"utc":true}]}
        }
      },
      "layer": [
        {
          "data": {"name": "px"},
          "mark": {"type": "rule", "color": "black", "strokeWidth": 2},
          "encoding": {
            "y": {"field": "l", "type": "quantitative", "title": null,
              "scale": {"domain": [-1.8, 396.3], "nice": false, "zero": false},
              "axis": {"orient": "right", "offset": -54, "tickCount": 40, "values": [20,40,60,80,100,120,140,160,180,200,220,240,260,280,300,320,340,360,380], "format": ".2f", "grid": true, "labelPadding": 6, "labelOverlap": false, "title": null}},
            "y2": {"field": "h"}
          }
        },
        {
          "data": {"name": "px"},
          "mark": {"type": "square", "color": "#ff0000", "size": 5, "opacity": 1},
          "encoding": {"y": {"field": "c", "type": "quantitative", "title": null}}
        },
        {
          "data": {"name": "ma1"},
          "mark": {"type": "line", "color": "#ff00ff", "strokeWidth": 1.3},
          "encoding": {"y": {"field": "v", "type": "quantitative", "title": null}}
        },
        {
          "data": {"name": "ma2"},
          "mark": {"type": "line", "color": "#0000ff", "strokeWidth": 1.3},
          "encoding": {"y": {"field": "v", "type": "quantitative", "title": null}}
        },
        {
          "mark": {"type": "rule", "color": "black", "strokeWidth": 2},
          "encoding": {"x": {"datum": {"year": 2024, "month": 6, "date": 1, "utc": true}, "type": "temporal"}}
        }
      ]
    },
    {
      "spacing": 0,
      "vconcat": [
        {
          "width": 828,
          "height": 106,
          "title": {"text": "Volume", "anchor": "start", "frame": "group", "offset": -16, "dx": 7, "fontSize": 13, "fontWeight": "normal", "color": "black", "font": "Liberation Sans"},
          "encoding": {
            "x": {
              "field": "d", "type": "temporal", "title": null,
              "scale": {"type": "utc", "domain": [{"year": 2004, "month": 4, "date": 24, "utc": true}, {"year": 2024, "month": 6, "date": 1, "utc": true}], "range": [0, 774]},
              "axis": {"labels": false, "grid": true, "title": null, "tickCount": 40, "values": [
                {"year":2005,"utc":true},{"year":2006,"utc":true},{"year":2007,"utc":true},{"year":2008,"utc":true},{"year":2009,"utc":true},
                {"year":2010,"utc":true},{"year":2011,"utc":true},{"year":2012,"utc":true},{"year":2013,"utc":true},{"year":2014,"utc":true},
                {"year":2015,"utc":true},{"year":2016,"utc":true},{"year":2017,"utc":true},{"year":2018,"utc":true},{"year":2019,"utc":true},
                {"year":2020,"utc":true},{"year":2021,"utc":true},{"year":2022,"utc":true},{"year":2023,"utc":true},{"year":2024,"utc":true}]}
            }
          },
          "layer": [
            {
              "data": {"name": "vol"},
              "mark": {"type": "bar", "size": 2},
              "encoding": {
                "y": {"field": "v", "type": "quantitative", "title": null,
                  "scale": {"domain": [-57000, 2955000], "nice": false, "zero": false},
                  "axis": {"orient": "right", "offset": -54, "tickCount": 10, "values": [750000, 1500000, 2250000], "labelExpr": "datum.value == 750000 ? '750 k' : datum.value == 1500000 ? '1.5 M' : '2.2 M'", "grid": true, "labelPadding": 6, "labelOverlap": false, "title": null}},
                "color": {"field": "u", "type": "nominal", "scale": {"domain": ["d", "u"], "range": ["#ff0000", "#4cb050"]}, "legend": null}
              }
            },
            {
              "mark": {"type": "rule", "color": "black", "strokeWidth": 2},
              "encoding": {"x": {"datum": {"year": 2024, "month": 6, "date": 1, "utc": true}, "type": "temporal"}}
            }
          ]
        },
        {
          "width": 774,
          "height": 32,
          "encoding": {
            "x": {
              "field": "d", "type": "temporal", "title": null,
              "scale": {"type": "utc", "domain": [{"year": 2004, "month": 4, "date": 24, "utc": true}, {"year": 2024, "month": 6, "date": 1, "utc": true}], "range": [0, 774]},
              "axis": null
            }
          },
          "layer": [
            {
              "data": {"name": "yrs"},
              "mark": {"type": "rule", "color": "black", "strokeWidth": 1, "clip": true},
              "encoding": {}
            },
            {
              "data": {"name": "yrs"},
              "transform": [{"filter": "datum.lab != '2024' && datum.lab != '2004'"}],
              "mark": {"type": "text", "align": "left", "baseline": "middle", "dx": 3, "fontSize": 13, "font": "Liberation Sans", "color": "black", "clip": true},
              "encoding": {
                "y": {"datum": 0.5, "type": "quantitative", "scale": {"domain": [0, 2]}, "axis": null},
                "text": {"field": "lab"}
              }
            },
            {
              "data": {"name": "yrs"},
              "transform": [{"filter": "datum.lab == '2004'"}],
              "mark": {"type": "text", "align": "left", "baseline": "middle", "dx": 9, "fontSize": 13, "font": "Liberation Sans", "color": "black", "clip": true},
              "encoding": {
                "y": {"datum": 0.5, "type": "quantitative"},
                "text": {"field": "lab"}
              }
            },
            {
              "data": {"name": "yrs"},
              "transform": [{"filter": "datum.lab == '2024'"}],
              "mark": {"type": "text", "align": "left", "baseline": "middle", "dx": -6, "fontSize": 13, "font": "Liberation Sans", "color": "black"},
              "encoding": {
                "y": {"datum": 0.5, "type": "quantitative"},
                "text": {"field": "lab"}
              }
            },
            {
              "data": {"values": [{}]},
              "mark": {"type": "rule", "color": "black", "strokeWidth": 1},
              "encoding": {"x": null, "y": {"datum": 1, "type": "quantitative"}}
            }
          ]
        }
      ]
    }
  ]
}
